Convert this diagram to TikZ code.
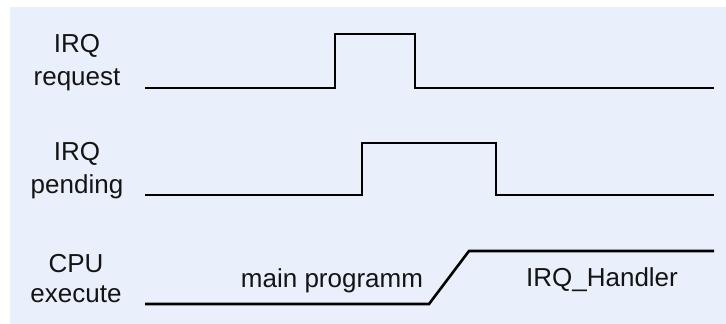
\documentclass[tikz,border=0pt]{standalone}
\usepackage{fontspec}
\setmainfont{Liberation Sans}
\definecolor{bgblue}{RGB}{233,240,251}
\definecolor{txt}{RGB}{20,20,20}
\begin{document}
\begin{tikzpicture}[x=1pt,y=-1pt,
  lbl/.style={anchor=base,inner sep=0pt,text=txt,font=\fontsize{26}{31}\selectfont},
  sig/.style={draw=black,line width=2.6pt,line join=miter,line cap=butt}]
\useasboundingbox (0,0) rectangle (726,324);
\fill[bgblue] (10,7) rectangle (726,324);
% labels
\node[lbl] (l1a) at (77,52) {IRQ};
\node[lbl] (l1b) at (77,85) {request};
\node[lbl] (l2a) at (77,160) {IRQ};
\node[lbl] (l2b) at (77,193) {pending};
\node[lbl] (l3a) at (76,272) {CPU};
\node[lbl] (l3b) at (76,302) {execute};
\node[lbl] (mp) at (332,287) {main programm};
\node[lbl] (ih) at (602,286) {IRQ\_Handler};
% IRQ request
\coordinate (r0) at (145,88);
\coordinate (r1) at (335,88);
\coordinate (r2) at (335,34);
\coordinate (r3) at (415,34);
\coordinate (r4) at (415,88);
\coordinate (r5) at (714,88);
\draw[sig] (r0) -- (r1) -- (r2) -- (r3) -- (r4) -- (r5);
% IRQ pending
\coordinate (p0) at (145,195);
\coordinate (p1) at (362,195);
\coordinate (p2) at (362,143);
\coordinate (p3) at (496,143);
\coordinate (p4) at (496,195);
\coordinate (p5) at (714,195);
\draw[sig] (p0) -- (p1) -- (p2) -- (p3) -- (p4) -- (p5);
% CPU execute
\coordinate (c0) at (145,304);
\coordinate (c1) at (429,304);
\coordinate (c2) at (469,251);
\coordinate (c3) at (714,251);
\draw[sig] (c0) -- (c1) -- (c2) -- (c3);
\end{tikzpicture}
\end{document}
